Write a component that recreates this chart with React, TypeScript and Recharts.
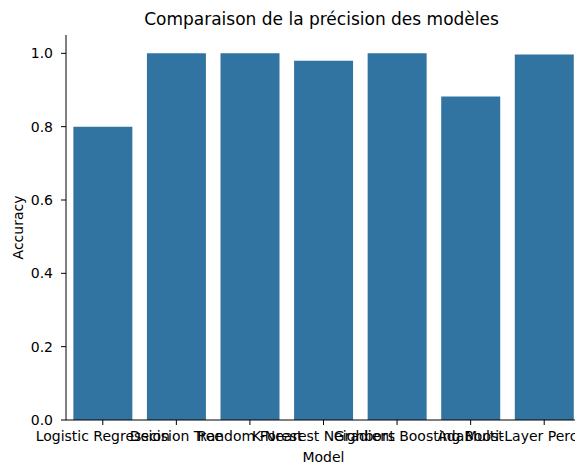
import React from "react";
import { BarChart, Bar, XAxis, YAxis, Label } from "recharts";

const models = [
  "Logistic Regression",
  "Decision Tree",
  "Random Forest",
  "K-Nearest Neighbors",
  "Gradient Boosting",
  "AdaBoost",
  "Multi-Layer Perceptron",
];
const accuracy = [0.8, 1.0, 1.0, 0.98, 1.0, 0.882, 0.997];
const yTicks = [0, 0.2, 0.4, 0.6, 0.8, 1.0];

const data = models.map((m, i) => ({ model: m, accuracy: accuracy[i] }));

const FONT = "DejaVu Sans";
const tickStyle = { fontFamily: FONT, fontSize: 14, fill: "#000" };

export default function App() {
  return (
    <div
      style={{
        position: "absolute",
        left: 0,
        top: 0,
        width: 575,
        height: 463,
        overflow: "hidden",
        background: "#fff",
      }}
    >
      <div
        style={{
          position: "absolute",
          left: 0,
          width: 643,
          top: 9,
          textAlign: "center",
          fontFamily: FONT,
          fontSize: 17,
          color: "#000",
          lineHeight: "20px",
        }}
      >
        Comparaison de la précision des modèles
      </div>
      <BarChart
        width={600}
        height={463}
        data={data}
        margin={{ top: 35, right: 19, bottom: 0, left: 0 }}
        barCategoryGap="10%"
      >
        <XAxis
          xAxisId="top"
          dataKey="model"
          orientation="top"
          height={0}
          tick={false}
          tickLine={false}
          axisLine={{ stroke: "#000", strokeWidth: 1 }}
        />
        <XAxis
          dataKey="model"
          height={43}
          interval={0}
          tick={tickStyle}
          tickSize={5}
          tickMargin={6}
          tickLine={{ stroke: "#000" }}
          axisLine={{ stroke: "#000", strokeWidth: 1 }}
        >
          <Label
            value="Model"
            position="insideBottom"
            offset={1}
            style={{ fontFamily: FONT, fontSize: 14, fill: "#000" }}
          />
        </XAxis>
        <YAxis
          width={66}
          domain={[0, 1.05]}
          ticks={yTicks}
          tickFormatter={(v: number) => v.toFixed(1)}
          tick={tickStyle}
          tickSize={5}
          tickMargin={8}
          tickLine={{ stroke: "#000" }}
          axisLine={{ stroke: "#000", strokeWidth: 1 }}
        >
          <Label
            value="Accuracy"
            angle={-90}
            position="center"
            dx={-15}
            style={{ fontFamily: FONT, fontSize: 14, fill: "#000", textAnchor: "middle" }}
          />
        </YAxis>
        <Bar dataKey="accuracy" fill="#3274a1" isAnimationActive={false} />
      </BarChart>
    </div>
  );
}
